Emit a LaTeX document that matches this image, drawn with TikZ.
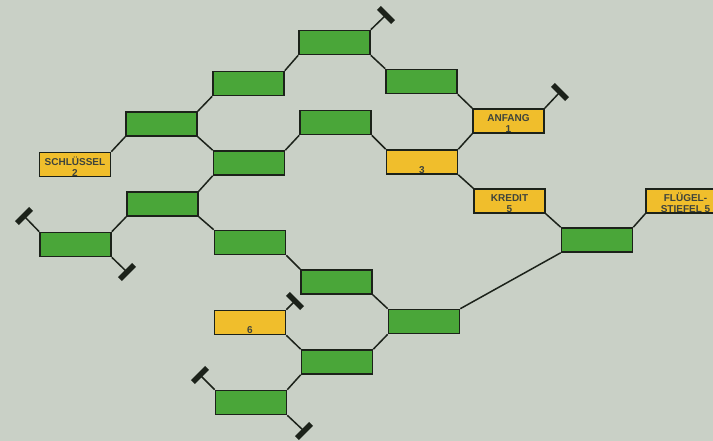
\documentclass[tikz,border=0pt]{standalone}
\usepackage{fontspec}
\setmainfont{Liberation Sans}
\usepackage{xcolor}
\definecolor{paper}{HTML}{C9D0C6}
\definecolor{leafGreen}{HTML}{4AA639}
\definecolor{cardYellow}{HTML}{F0BE2C}
\definecolor{ink}{HTML}{1C221A}
\usetikzlibrary{positioning}
% two lines of card text, set a little low in the card
\newcommand{\cardlines}[2]{\raisebox{-3.6pt}[\height][\depth]{\begin{tabular}{@{}c@{}}#1\\#2\end{tabular}}}

\begin{document}
\begin{tikzpicture}[
  x=1pt, y=-1pt,
  every node/.style={font=\fontsize{10}{11}\selectfont\bfseries, text=ink!85},
  card/.style={rectangle, draw=ink, line width=1.6pt, inner sep=0pt,
               minimum width=71pt, minimum height=24pt},
  gcard/.style={card, fill=leafGreen},
  ycard/.style={card, fill=cardYellow},
  link/.style={draw=ink, line width=1.5pt},
  stopbar/.style={rectangle, fill=ink, inner sep=0pt,
                  minimum width=20pt, minimum height=5.5pt}
]
% paper
\fill[paper] (0,0) rectangle (713,441);
\useasboundingbox (0,0) rectangle (713,441);

% left half of the tree
\node[gcard] (top)  at (334.5, 42.5) {};
\node[gcard] (up2)  at (248.5, 83.5) {};
\node[gcard] (up1)  at (161.5,124.0) {};
\node[ycard] (key)  at ( 75.0,164.5) {\cardlines{SCHLÜSSEL}{2}};
\node[gcard] (mid1) at (335.5,122.5) {};
\node[gcard] (mid2) at (249.0,163.0) {};
\node[gcard] (low1) at (162.5,204.0) {};
\node[gcard] (low2) at ( 75.5,244.5) {};
\node[gcard] (low3) at (250.0,242.5) {};
\node[gcard] (low4) at (336.5,282.0) {};
\node[ycard] (six)  at (250.0,322.5) {\cardlines{}{6}};
\node[gcard] (bot1) at (337.0,362.0) {};
\node[gcard] (bot2) at (251.0,402.5) {};
\node[gcard] (join) at (424.0,321.5) {};

% right half of the tree
\node[gcard] (rgt1)  at (421.5, 81.5) {};
\node[ycard] (start) at (508.5,121.0) {\cardlines{ANFANG}{1}};
\node[ycard] (three) at (422.0,162.0) {\cardlines{}{3}};
\node[ycard] (loan)  at (509.5,201.0) {\cardlines{KREDIT}{5}};
\node[gcard] (hub)   at (597.0,240.0) {};
\node[ycard, minimum width=79pt] (wing) at (685.5,201.0) {\cardlines{FLÜGEL-}{STIEFEL 5}};

% dead ends
\node[stopbar, rotate=-45] (stopA) at (386, 15) {};
\node[stopbar, rotate=-45] (stopB) at (560, 92) {};
\node[stopbar, rotate=45]  (stopC) at ( 24,216) {};
\node[stopbar, rotate=45]  (stopD) at (127,272) {};
\node[stopbar, rotate=-45] (stopE) at (295,301) {};
\node[stopbar, rotate=45]  (stopF) at (200,375) {};
\node[stopbar, rotate=45]  (stopG) at (304,431) {};

% connectors
\draw[link] (key.north east) -- (up1.south west);
\draw[link] (up1.north east) -- (up2.south west);
\draw[link] (up2.north east) -- (top.south west);
\draw[link] (up1.south east) -- (mid2.north west);
\draw[link] (mid2.north east) -- (mid1.south west);
\draw[link] (mid2.south west) -- (low1.north east);
\draw[link] (low1.south west) -- (low2.north east);
\draw[link] (low1.south east) -- (low3.north west);
\draw[link] (low3.south east) -- (low4.north west);
\draw[link] (low4.south east) -- (join.north west);
\draw[link] (join.south west) -- (bot1.north east);
\draw[link] (bot1.north west) -- (six.south east);
\draw[link] (bot1.south west) -- (bot2.north east);
\draw[link] (join.north east) -- (hub.south west);
\draw[link] (hub.north west) -- (loan.south east);
\draw[link] (hub.north east) -- (wing.south west);
\draw[link] (loan.north west) -- (three.south east);
\draw[link] (three.north west) -- (mid1.south east);
\draw[link] (three.north east) -- (start.south west);
\draw[link] (start.north west) -- (rgt1.south east);
\draw[link] (rgt1.north west) -- (top.south east);

\draw[link] (top.north east) -- (stopA.center);
\draw[link] (start.north east) -- (stopB.center);
\draw[link] (low2.north west) -- (stopC.center);
\draw[link] (low2.south east) -- (stopD.center);
\draw[link] (six.north east) -- (stopE.center);
\draw[link] (bot2.north west) -- (stopF.center);
\draw[link] (bot2.south east) -- (stopG.center);
\end{tikzpicture}
\end{document}
